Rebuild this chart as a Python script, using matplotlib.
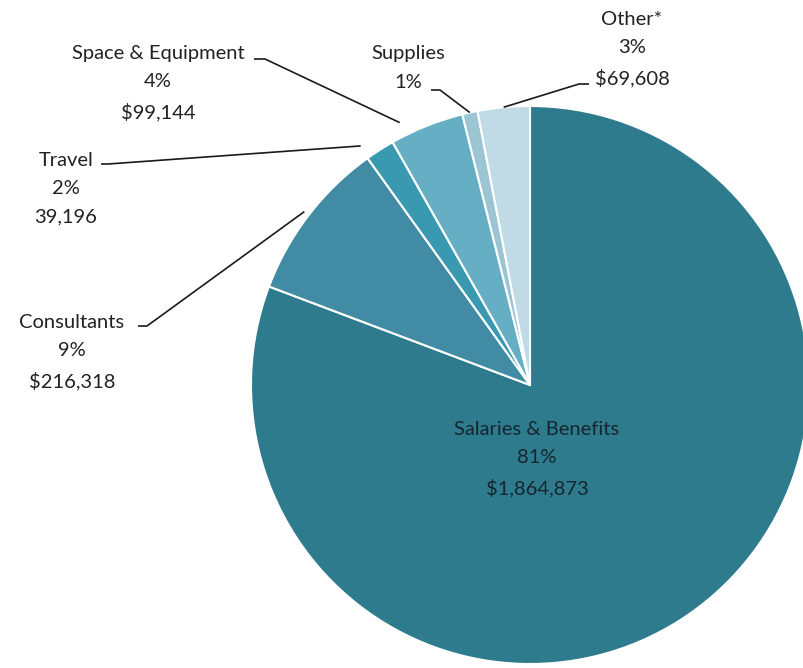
import matplotlib
matplotlib.use("Agg")
import matplotlib.pyplot as plt
import numpy as np

plt.rcParams["font.family"] = ["Lato", "DejaVu Sans"]

categories = ["Salaries & Benefits", "Consultants", "Travel", "Space & Equipment", "Supplies", "Other*"]
amounts = [1864873, 216318, 39196, 99144, 20500, 69608]
pct_labels = ["81%", "9%", "2%", "4%", "1%", "3%"]
amount_labels = ["$1,864,873", "$216,318", "39,196", "$99,144", "", "$69,608"]
COLORS = ["#2e7b8e", "#418ca4", "#3899b0", "#66aec4", "#9cc5d4", "#c0dbe5"]

W, H = 804, 668
CX, CY, R = 530, 385, 279


def px(x, y):
    # pixel position in the picture -> pie data coordinates
    return (x - CX) / R, (CY - y) / R


fig = plt.figure(figsize=(W / 100, H / 100), dpi=100)
ax = fig.add_axes([(CX - R) / W, (H - CY - R) / H, 2 * R / W, 2 * R / H])

wedges, _ = ax.pie(amounts, colors=COLORS, startangle=90, counterclock=False,
                   wedgeprops=dict(edgecolor="white", linewidth=1.5))
ax.set_xlim(-1, 1)
ax.set_ylim(-1, 1)
ax.set_aspect("equal")
ax.axis("off")

# label layout: text centre (px), leader start (px), elbow length, angle fraction, radius
layout = {
    "Consultants":       dict(pos=(72, 352), start=(138, 326), elbow=9, frac=0.5, r=1.02),
    "Travel":            dict(pos=(66, 189), start=(101, 164), elbow=7, frac=0.95, r=1.05),
    "Space & Equipment": dict(pos=(158, 83), start=(254, 59), elbow=11, frac=0.8, r=1.05),
    "Supplies":          dict(pos=(408, 68), start=(431, 90), elbow=9, frac=0.5, r=1.0),
    "Other*":            dict(pos=(632, 49), start=(589, 84), elbow=-10, frac=0.5, r=1.0),
}

FS = 14.5
LS = 1.8

for i, w in enumerate(wedges):
    name = categories[i]
    lines = [name, pct_labels[i]]
    if amount_labels[i]:
        lines.append(amount_labels[i])
    txt = "\n".join(lines)
    if name == "Salaries & Benefits":
        x, y = px(537, 459)
        ax.text(x, y, txt, ha="center", va="center", fontsize=FS,
                color="#17252e", linespacing=LS)
        continue
    lay = layout[name]
    x, y = px(*lay["pos"])
    ax.text(x, y, txt, ha="center", va="center", fontsize=FS,
            color="#222222", linespacing=LS, clip_on=False)
    # leader line to the wedge edge
    ang = np.deg2rad(w.theta1 + lay["frac"] * (w.theta2 - w.theta1))
    ex, ey = lay["r"] * np.cos(ang), lay["r"] * np.sin(ang)
    sx, sy = px(*lay["start"])
    mx = sx + lay["elbow"] / R
    ax.plot([sx, mx, ex], [sy, sy, ey], color="#1a1a1a", linewidth=1.2,
            clip_on=False, solid_capstyle="butt")

fig.savefig("out.png", dpi=100, facecolor="white")
